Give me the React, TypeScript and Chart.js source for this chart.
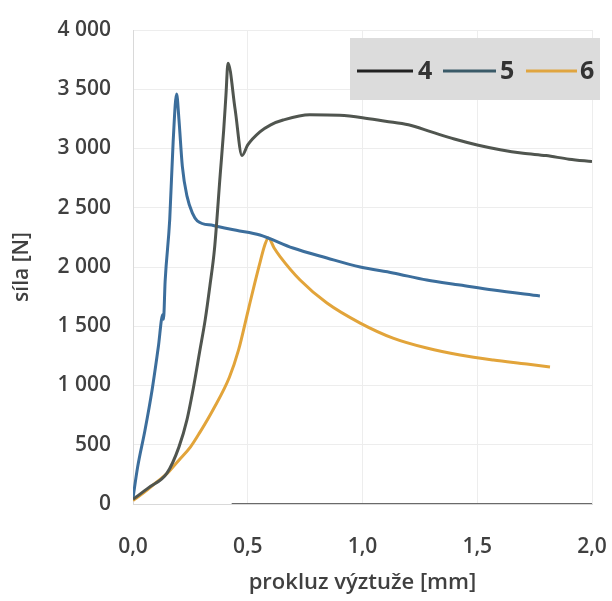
import React, { useEffect, useRef } from "react";
import { Chart, registerables } from "chart.js";

Chart.register(...registerables);

const series4X = [0, 0.07, 0.148, 0.2, 0.235, 0.265, 0.29, 0.315, 0.335, 0.355, 0.38, 0.395, 0.405, 0.414, 0.445, 0.475, 0.5, 0.553, 0.6, 0.654, 0.77, 0.9, 1.0, 1.1, 1.2, 1.3, 1.4, 1.5, 1.6, 1.7, 1.8, 1.9, 2.0];
const series4Y = [40, 140, 260, 480, 710, 1000, 1280, 1560, 1840, 2150, 2780, 3150, 3450, 3720, 3330, 2940, 3030, 3140, 3200, 3240, 3285, 3280, 3260, 3230, 3200, 3140, 3080, 3030, 2990, 2960, 2940, 2910, 2890];

const series5X = [0, 0.02, 0.052, 0.083, 0.11, 0.13, 0.133, 0.14, 0.16, 0.175, 0.19, 0.2, 0.215, 0.235, 0.26, 0.28, 0.35, 0.45, 0.553, 0.697, 0.845, 0.99, 1.133, 1.28, 1.425, 1.57, 1.773];
const series5Y = [50, 310, 620, 960, 1320, 1600, 1560, 1880, 2400, 3060, 3460, 3250, 2850, 2600, 2450, 2390, 2350, 2310, 2270, 2160, 2076, 2000, 1950, 1890, 1848, 1806, 1755];

const series6X = [0, 0.05, 0.1, 0.15, 0.2, 0.25, 0.29, 0.35, 0.42, 0.46, 0.5, 0.53, 0.555, 0.575, 0.59, 0.615, 0.64, 0.728, 0.845, 0.99, 1.133, 1.28, 1.425, 1.57, 1.716, 1.817];
const series6Y = [30, 100, 180, 260, 370, 480, 600, 800, 1070, 1300, 1620, 1860, 2050, 2190, 2245, 2160, 2090, 1890, 1696, 1527, 1400, 1316, 1257, 1215, 1181, 1156];

const baselineX = [0.43, 2.0];
const baselineY = [0, 0];

const seriesNames = ["4", "5", "6"];
const seriesColors = ["#50554f", "#3c6e9c", "#e2a43a"];
const legendLineColors = ["#222222", "#3a5a68", "#e0a540"];

const xTitle = "prokluz výztuže [mm]";
const yTitle = "síla [N]";

const FONT = "'Open Sans', 'Liberation Sans', sans-serif";
const TEXT = "#404040";

const toPoints = (xs: number[], ys: number[]) => xs.map((x, i) => ({ x, y: ys[i] }));

const legendPlugin = {
  id: "customLegend",
  afterDraw(chart: any) {
    const ctx = chart.ctx;
    ctx.save();
    ctx.fillStyle = "#dcdcdc";
    ctx.fillRect(350, 38, 250, 62);
    const items = [
      { x0: 357, x1: 413, tx: 418 },
      { x0: 443, x1: 496, tx: 500 },
      { x0: 526, x1: 577, tx: 580 },
    ];
    items.forEach((it, i) => {
      ctx.strokeStyle = legendLineColors[i];
      ctx.lineWidth = 3;
      ctx.beginPath();
      ctx.moveTo(it.x0, 71);
      ctx.lineTo(it.x1, 71);
      ctx.stroke();
      ctx.fillStyle = "#333333";
      ctx.font = `bold 25px ${FONT}`;
      ctx.textBaseline = "middle";
      ctx.textAlign = "left";
      ctx.fillText(seriesNames[i], it.tx, 72);
    });
    ctx.restore();
  },
};

export default function App() {
  const ref = useRef<HTMLCanvasElement>(null);
  useEffect(() => {
    if (!ref.current) return;
    const lineDs = (label: string, xs: number[], ys: number[], color: string) => ({
      label,
      data: toPoints(xs, ys),
      showLine: true,
      borderColor: color,
      borderWidth: 3,
      pointRadius: 0,
      cubicInterpolationMode: "monotone",
    });
    const chart = new Chart(ref.current, {
      type: "scatter",
      data: {
        datasets: [
          {
            label: "base",
            data: toPoints(baselineX, baselineY),
            showLine: true,
            borderColor: "#6a6a6a",
            borderWidth: 2,
            pointRadius: 0,
          },
          lineDs(seriesNames[0], series4X, series4Y, seriesColors[0]),
          lineDs(seriesNames[1], series5X, series5Y, seriesColors[1]),
          lineDs(seriesNames[2], series6X, series6Y, seriesColors[2]),
        ] as any,
      },
      options: {
        responsive: false,
        animation: false,
        layout: { padding: { top: 30, right: 20, left: 0, bottom: 0 } },
        plugins: {
          legend: { display: false },
          tooltip: { enabled: false },
        },
        scales: {
          x: {
            type: "linear",
            min: 0,
            max: 2,
            border: { color: "#d9d9d9", width: 1 },
            grid: { color: "#ededed", drawTicks: false },
            ticks: {
              stepSize: 0.5,
              padding: 30,
              maxRotation: 0,
              color: TEXT,
              font: { family: FONT, size: 21, weight: "600" as any },
              callback: (v: any) => Number(v).toFixed(1).replace(".", ","),
            },
            title: {
              display: true,
              text: xTitle,
              color: TEXT,
              padding: { top: 0, bottom: 5 },
              font: { family: FONT, size: 22, weight: "600" as any },
            },
            afterFit: (s: any) => {
              s.height = 97;
              s.paddingLeft = 0;
              s.paddingRight = 0;
            },
          },
          y: {
            type: "linear",
            min: 0,
            max: 4000,
            border: { color: "#d9d9d9", width: 1 },
            grid: { color: "#ededed", drawTicks: false },
            ticks: {
              stepSize: 500,
              padding: 22,
              color: TEXT,
              font: { family: FONT, size: 21, weight: "600" as any },
              callback: (v: any) => String(v).replace(/\B(?=(\d{3})+(?!\d))/g, " "),
            },
            title: {
              display: true,
              text: yTitle,
              color: TEXT,
              padding: { top: 9, bottom: 0 },
              font: { family: FONT, size: 21, weight: "600" as any },
            },
            afterFit: (s: any) => {
              s.width = 133;
              s.paddingTop = 0;
              s.paddingBottom = 0;
            },
          },
        },
      },
      plugins: [legendPlugin],
    });
    return () => chart.destroy();
  }, []);
  return (
    <div style={{ position: "absolute", left: 0, top: 0, width: 612, height: 601, background: "#fff" }}>
      <canvas ref={ref} width={612} height={601} />
    </div>
  );
}
